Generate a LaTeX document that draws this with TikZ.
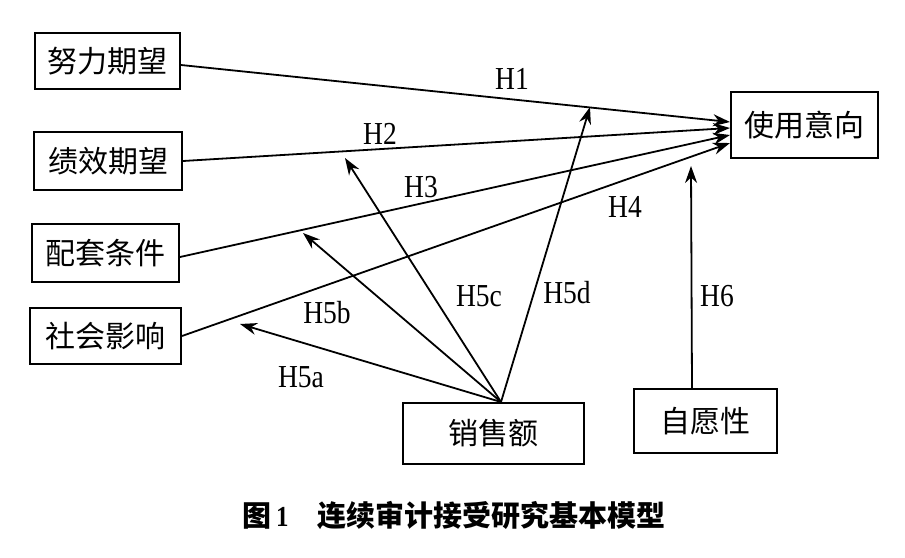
\documentclass[tikz,border=0pt]{standalone}
\usepackage{fontspec}
\setmainfont[FakeStretch=0.86]{Liberation Serif}
\newfontfamily\cjk{Noto Sans CJK SC}
\usetikzlibrary{arrows.meta}
\tikzset{
  box/.style={draw, line width=2pt, inner sep=0pt, font=\cjk\fontsize{30}{30}\selectfont},
  hyp/.style={line width=1.8pt, -{Stealth[length=17pt,width=12pt]}},
  lab/.style={font=\fontsize{32}{32}\selectfont}
}
\begin{document}
\begin{tikzpicture}[x=1pt,y=-1pt]
            \useasboundingbox (0,0) rectangle (905,557);
            \node[box, minimum width=145pt, minimum height=56pt] (ef) at (107.5,61) {努力期望};
            \node[box, minimum width=148pt, minimum height=58pt] (pe) at (108,161) {绩效期望};
            \node[box, minimum width=147pt, minimum height=58pt] (fc) at (105.5,253) {配套条件};
            \node[box, minimum width=151pt, minimum height=56pt] (si) at (105.5,336) {社会影响};
            \node[box, minimum width=147pt, minimum height=66pt] (bi) at (804.5,125) {使用意向};
            \node[box, minimum width=181pt, minimum height=61pt] (sv) at (493.5,433.5) {销售额};
            \node[box, minimum width=143pt, minimum height=64pt] (vo) at (705.5,421) {自愿性};
            % free ends of the moderator arrows
            \coordinate (m5a) at (240,324);
            \coordinate (m5b) at (303,233);
            \coordinate (m5c) at (345,158);
            \coordinate (m5d) at (590,107);
            \coordinate (m6) at (691,166);
            \draw[hyp] ([yshift=-4pt]ef.east) -- ([yshift=3pt]bi.west);
            \draw[hyp] (pe.east) -- ([yshift=-3pt]bi.west);
            \draw[hyp] ([yshift=-4pt]fc.east) -- ([yshift=-10pt]bi.west);
            \draw[hyp] (si.east) -- ([yshift=-18pt]bi.west);
            \foreach \t in {m5a,m5b,m5c,m5d}
            \draw[hyp] ([xshift=7.5pt]sv.north) -- (\t);
            \draw[hyp] ([xshift=-13.5pt]vo.north) -- (m6);
            \node[lab] (h1) at (512,79) {H1};
            \node[lab] (h2) at (380,134) {H2};
            \node[lab] (h3) at (421,187) {H3};
            \node[lab] (h4) at (625,207) {H4};
            \node[lab] (h5a) at (301,377) {H5a};
            \node[lab] (h5b) at (327,313) {H5b};
            \node[lab] (h5c) at (479,296) {H5c};
            \node[lab] (h5d) at (567,293) {H5d};
            \node[lab] (h6) at (717,296) {H6};
            \node[font=\cjk\bfseries\fontsize{29}{29}\selectfont] (cap) at (454,515)
              {图\,{\rmfamily\bfseries 1}\quad 连续审计接受研究基本模型};
        \end{tikzpicture}
\end{document}
